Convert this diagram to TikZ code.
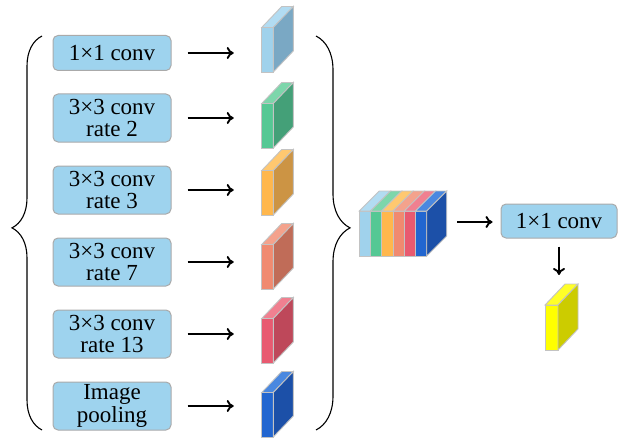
\documentclass[tikz,border=0pt]{standalone}
\usepackage{fontspec}
\setmainfont{Liberation Serif}
\newfontfamily\boxfont{Liberation Serif}
\usetikzlibrary{arrows.meta}
\usetikzlibrary{decorations.pathreplacing}
\definecolor{box-blue}{RGB}{158, 211, 238}
\definecolor{box-edge}{RGB}{170, 170, 170}
\definecolor{cube-edge}{RGB}{195, 195, 195}
\definecolor{sky-front}{RGB}{160, 210, 236}
\definecolor{sky-top}{RGB}{178, 220, 242}
\definecolor{sky-side}{RGB}{122, 168, 196}
\definecolor{mint-front}{RGB}{85, 200, 148}
\definecolor{mint-top}{RGB}{125, 214, 171}
\definecolor{mint-side}{RGB}{68, 160, 120}
\definecolor{amber-front}{RGB}{255, 183, 77}
\definecolor{amber-top}{RGB}{255, 200, 112}
\definecolor{amber-side}{RGB}{204, 148, 68}
\definecolor{salmon-front}{RGB}{240, 138, 112}
\definecolor{salmon-top}{RGB}{244, 162, 140}
\definecolor{salmon-side}{RGB}{192, 108, 88}
\definecolor{rose-front}{RGB}{232, 90, 112}
\definecolor{rose-top}{RGB}{240, 128, 144}
\definecolor{rose-side}{RGB}{190, 72, 90}
\definecolor{royal-front}{RGB}{34, 102, 208}
\definecolor{royal-top}{RGB}{74, 136, 224}
\definecolor{royal-side}{RGB}{28, 80, 168}
\definecolor{lemon-front}{RGB}{255, 255, 0}
\definecolor{lemon-top}{RGB}{255, 255, 40}
\definecolor{lemon-side}{RGB}{204, 204, 0}
\tikzset{
    convbox/.style={draw=box-edge, fill=box-blue, rounded corners=5pt, line width=1pt,
        minimum width=118pt, align=center, inner sep=0pt, text=black,
        font=\boxfont\fontsize{23}{22.5}\selectfont},
    cubeedge/.style={draw=cube-edge, line width=0.9pt},
    arr/.style={-{To[length=7pt, width=12pt]}, line width=1.9pt},
    bracefig/.style={decorate, line width=1.1pt}
}
% x, y of front bottom-left, width, height, front, top, side
\newcommand{\featcube}[7]{%
    \filldraw[cubeedge, fill=#5] (#1,#2) rectangle ++(#3,-#4);
    \filldraw[cubeedge, fill=#6] (#1,#2-#4) -- ++(#3,0) -- ++(20,-21) -- ++(-#3,0) -- cycle;
    \filldraw[cubeedge, fill=#7] (#1+#3,#2) -- ++(0,-#4) -- ++(20,-21) -- ++(0,#4) -- cycle;
}
\begin{document}
\begin{tikzpicture}[x=1pt, y=-1pt]
                \useasboundingbox (0, 0) rectangle (620, 441);
                \node[convbox, minimum height=35pt] (b1) at (112, 53) {1×1 conv};
                \node[convbox, minimum height=48pt] (b2) at (112, 118) {3×3 conv\\rate 2};
                \node[convbox, minimum height=48pt] (b3) at (112, 190) {3×3 conv\\rate 3};
                \node[convbox, minimum height=48pt] (b4) at (112, 262) {3×3 conv\\rate 7};
                \node[convbox, minimum height=48pt] (b5) at (112, 334) {3×3 conv\\rate 13};
                \node[convbox, minimum height=48pt] (b6) at (112, 406) {Image\\pooling};
                \featcube{261.7}{72}{11.6}{44.5}{sky-front}{sky-top}{sky-side}
                \featcube{261.7}{148}{11.6}{44.5}{mint-front}{mint-top}{mint-side}
                \featcube{261.7}{215}{11.6}{44.5}{amber-front}{amber-top}{amber-side}
                \featcube{261.7}{289}{11.6}{44.5}{salmon-front}{salmon-top}{salmon-side}
                \featcube{261.7}{363}{11.6}{44.5}{rose-front}{rose-top}{rose-side}
                \featcube{261.7}{437}{11.6}{44.5}{royal-front}{royal-top}{royal-side}
                \foreach \i in {1,...,6} {
                    \coordinate (f\i) at (261.7, 0);
                    \draw[arr, shorten <=16pt, shorten >=28pt] (b\i.east) -- (b\i.east -| f\i);
                }
                \draw[bracefig, decoration={brace, amplitude=30pt, aspect=0.513}] (42, 430) -- (42, 36);
                \draw[bracefig, decoration={brace, amplitude=34pt, aspect=0.487}] (316, 36) -- (316, 430);
                \foreach \c [count=\i from 0] in {sky, mint, amber, salmon, rose, royal} {
                    \filldraw[cubeedge, fill=\c-front] ({359.3+\i*11.23}, 256) rectangle ++(11.23, -45);
                    \filldraw[cubeedge, fill=\c-top] ({359.3+\i*11.23}, 211) -- ++(11.23, 0) -- ++(20, -20) -- ++(-11.23, 0) -- cycle;
                }
                \filldraw[cubeedge, fill=royal-side] (426.7, 256) -- ++(0, -45) -- ++(20, -20) -- ++(0, 45) -- cycle;
                \coordinate (stack) at (447, 222);
                \node[convbox, minimum height=34pt, minimum width=116pt] (b7) at (559, 221) {1×1 conv};
                \draw[arr, shorten <=10pt, shorten >=8pt] (stack) -- (stack -| b7.west);
                \featcube{545}{350}{13}{45}{lemon-front}{lemon-top}{lemon-side}
                \coordinate (out) at (558, 284);
                \draw[arr, shorten <=8pt, shorten >=9pt] (b7.south) -- (b7.south |- out);
            \end{tikzpicture}
\end{document}
